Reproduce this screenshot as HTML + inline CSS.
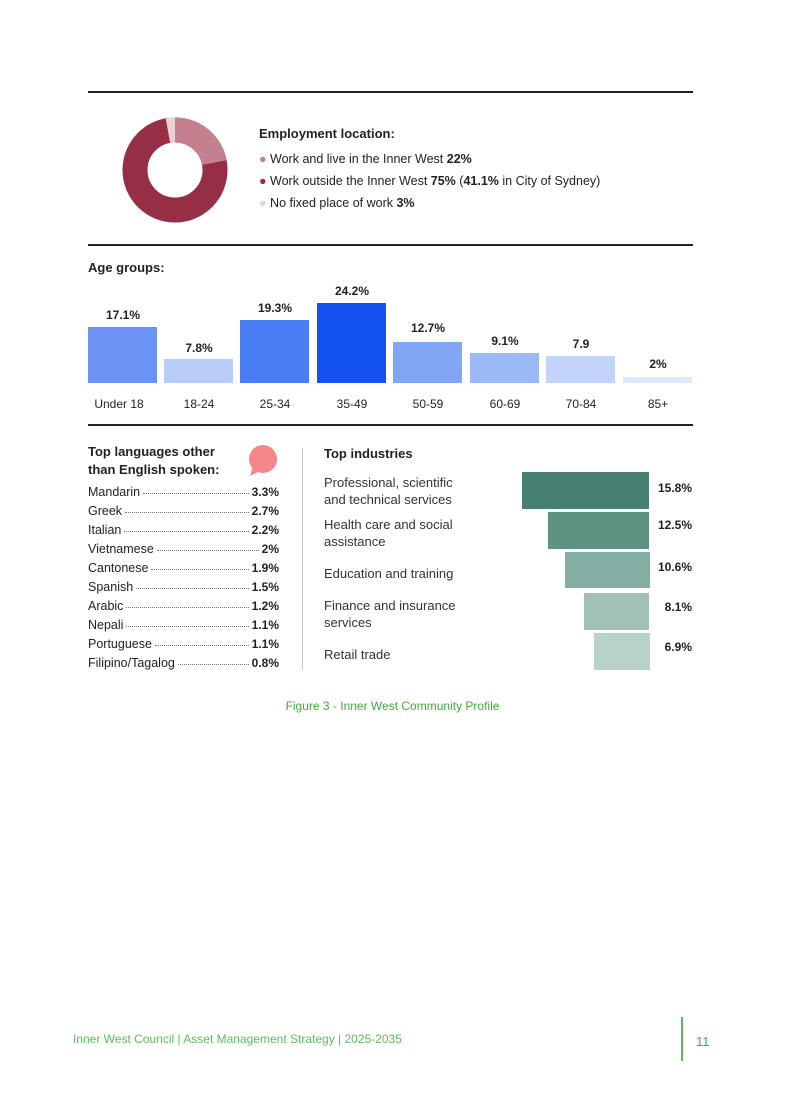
<!DOCTYPE html>
<html><head><meta charset="utf-8"><style>
body{margin:0;background:#fff;}
#p{position:relative;width:785px;height:1109px;overflow:hidden;font-family:"Liberation Sans",sans-serif;color:#222;}
.a{position:absolute;white-space:nowrap;}
.hr{position:absolute;left:88px;width:605px;height:2px;background:#222;}
.bar{position:absolute;}
.lab{position:absolute;font-size:12px;text-align:center;width:70px;}
.b{font-weight:bold;}
.row{position:absolute;left:88px;width:191px;font-size:12.5px;display:flex;align-items:baseline;}
.row .d{flex:1;border-bottom:1px dotted #777;margin:0 3px;height:0;position:relative;top:-2px;}
.row .v{font-weight:bold;font-size:12px;}
.ind{position:absolute;left:324px;font-size:13px;line-height:17px;color:#333;}
.iv{position:absolute;font-size:12px;font-weight:bold;right:93px;}
</style></head><body><div id="p">
<div class="hr" style="top:91px"></div>
<svg class="a" style="left:120px;top:115px" width="110" height="110" viewBox="0 0 110 110">
<g transform="rotate(-90 55 55)">
<circle cx="55" cy="55" r="40" fill="none" stroke="#962f45" stroke-width="25"/>
<circle cx="55" cy="55" r="40" fill="none" stroke="#c4808c" stroke-width="25" stroke-dasharray="55.3 300"/>
<circle cx="55" cy="55" r="40" fill="none" stroke="#ecd0d6" stroke-width="25" stroke-dasharray="0 243.8 7.5 20"/>
</g></svg>
<div class="a b" style="left:259px;top:126px;font-size:13px">Employment location:</div>
<div class="a" style="left:259px;top:152px;font-size:12.5px"><span style="color:#c4808c">●</span> Work and live in the Inner West <b>22%</b></div>
<div class="a" style="left:259px;top:174px;font-size:12.5px"><span style="color:#962f45">●</span> Work outside the Inner West <b>75%</b> (<b>41.1%</b> in City of Sydney)</div>
<div class="a" style="left:259px;top:196px;font-size:12.5px"><span style="color:#ecd0d6">●</span> No fixed place of work <b>3%</b></div>
<div class="hr" style="top:244px"></div>
<div class="a b" style="left:88px;top:260px;font-size:13px">Age groups:</div>
<div class="bar" style="left:88px;top:327px;width:69px;height:56px;background:#6b93f5"></div>
<div class="bar" style="left:164px;top:359px;width:69px;height:24px;background:#b9cdfa"></div>
<div class="bar" style="left:240px;top:320px;width:69px;height:63px;background:#4a7ef3"></div>
<div class="bar" style="left:317px;top:303px;width:69px;height:80px;background:#1352f0"></div>
<div class="bar" style="left:393px;top:342px;width:69px;height:41px;background:#82a6f6"></div>
<div class="bar" style="left:470px;top:353px;width:69px;height:30px;background:#9bb8f7"></div>
<div class="bar" style="left:546px;top:356px;width:69px;height:27px;background:#c3d4fb"></div>
<div class="bar" style="left:623px;top:377px;width:69px;height:6px;background:#dde7fd"></div>
<div class="lab b" style="left:88px;top:308px">17.1%</div>
<div class="lab b" style="left:164px;top:341px">7.8%</div>
<div class="lab b" style="left:240px;top:301px">19.3%</div>
<div class="lab b" style="left:317px;top:284px">24.2%</div>
<div class="lab b" style="left:393px;top:321px">12.7%</div>
<div class="lab b" style="left:470px;top:334px">9.1%</div>
<div class="lab b" style="left:546px;top:337px">7.9</div>
<div class="lab b" style="left:623px;top:357px">2%</div>
<div class="lab" style="left:84px;top:397px">Under 18</div>
<div class="lab" style="left:164px;top:397px">18-24</div>
<div class="lab" style="left:240px;top:397px">25-34</div>
<div class="lab" style="left:317px;top:397px">35-49</div>
<div class="lab" style="left:393px;top:397px">50-59</div>
<div class="lab" style="left:470px;top:397px">60-69</div>
<div class="lab" style="left:546px;top:397px">70-84</div>
<div class="lab" style="left:623px;top:397px">85+</div>
<div class="hr" style="top:424px"></div>
<div class="a b" style="left:88px;top:443px;font-size:13px;line-height:18px">Top languages other<br>than English spoken:</div>
<svg class="a" style="left:244px;top:443px" width="36" height="36"><circle cx="19" cy="16" r="14" fill="#f5878a"/><path d="M9 24 L6 33 L16 28 Z" fill="#f5878a"/></svg>
<div class="row" style="top:485px">Mandarin<span class="d"></span><span class="v">3.3%</span></div>
<div class="row" style="top:504px">Greek<span class="d"></span><span class="v">2.7%</span></div>
<div class="row" style="top:523px">Italian<span class="d"></span><span class="v">2.2%</span></div>
<div class="row" style="top:542px">Vietnamese<span class="d"></span><span class="v">2%</span></div>
<div class="row" style="top:561px">Cantonese<span class="d"></span><span class="v">1.9%</span></div>
<div class="row" style="top:580px">Spanish<span class="d"></span><span class="v">1.5%</span></div>
<div class="row" style="top:599px">Arabic<span class="d"></span><span class="v">1.2%</span></div>
<div class="row" style="top:618px">Nepali<span class="d"></span><span class="v">1.1%</span></div>
<div class="row" style="top:637px">Portuguese<span class="d"></span><span class="v">1.1%</span></div>
<div class="row" style="top:656px">Filipino/Tagalog<span class="d"></span><span class="v">0.8%</span></div>
<div class="a" style="left:302px;top:448px;width:1px;height:222px;background:#ccc"></div>
<div class="a b" style="left:324px;top:446px;font-size:13px">Top industries</div>
<div class="bar" style="left:522px;top:472px;width:127px;height:37px;background:#468070"></div>
<div class="bar" style="left:548px;top:512px;width:101px;height:37px;background:#5e9384"></div>
<div class="bar" style="left:565px;top:552px;width:85px;height:36px;background:#84ada3"></div>
<div class="bar" style="left:584px;top:593px;width:65px;height:37px;background:#a0c0b8"></div>
<div class="bar" style="left:594px;top:633px;width:56px;height:37px;background:#b7d2cb"></div>
<div class="ind" style="top:474px">Professional, scientific<br>and technical services</div>
<div class="ind" style="top:516px">Health care and social<br>assistance</div>
<div class="ind" style="top:565px">Education and training</div>
<div class="ind" style="top:597px">Finance and insurance<br>services</div>
<div class="ind" style="top:646px">Retail trade</div>
<div class="iv" style="top:481px">15.8%</div>
<div class="iv" style="top:518px">12.5%</div>
<div class="iv" style="top:560px">10.6%</div>
<div class="iv" style="top:600px">8.1%</div>
<div class="iv" style="top:640px">6.9%</div>
<div class="a" style="left:0;width:785px;text-align:center;top:699px;font-size:12px;color:#3cae3c">Figure 3 - Inner West Community Profile</div>
<div class="a" style="left:73px;top:1032px;font-size:12px;color:#5dbb5d">Inner West Council | Asset Management Strategy | 2025-2035</div>
<div class="a" style="left:681px;top:1017px;width:2px;height:44px;background:#5dbb5d"></div>
<div class="a" style="left:696px;top:1034px;font-size:13px;color:#3cae3c">11</div>
</div></body></html>
